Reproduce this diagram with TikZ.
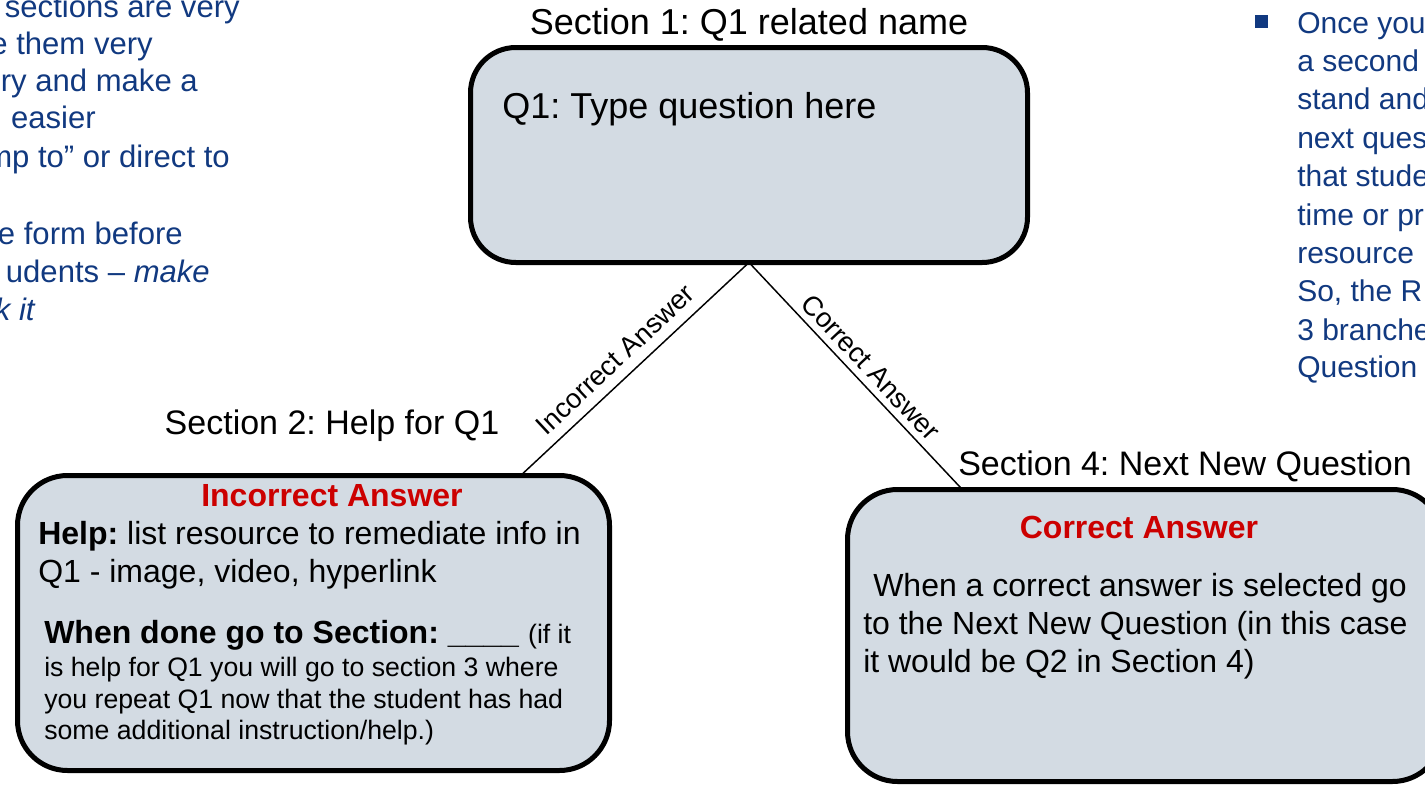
\documentclass[tikz,border=0pt]{standalone}
\usepackage{fontspec}
\setmainfont{Liberation Sans}
\usetikzlibrary{calc}
\definecolor{boxfill}{RGB}{211,219,227}
\definecolor{noteblue}{RGB}{17,57,128}
\definecolor{ansred}{RGB}{204,0,0}
\tikzset{
  qbox/.style={draw=black, line width=3.75pt, fill=boxfill, inner sep=0pt, outer sep=0pt, rounded corners=#1},
  qbox/.default=34pt,
  link/.style={draw=black, line width=1.1pt},
  note/.style={text=noteblue, inner sep=0pt, font=\fontsize{22.5pt}{27pt}\selectfont},
  lnote/.style={text=noteblue, inner sep=0pt, font=\fontsize{23.3pt}{27pt}\selectfont},
  secttl/.style={inner sep=0pt, font=\fontsize{25.5pt}{30pt}\selectfont},
  body/.style={inner sep=0pt, font=\fontsize{24pt}{28pt}\selectfont},
  redhead/.style={inner sep=0pt, text=ansred, font=\fontsize{24pt}{28pt}\selectfont\bfseries},
  small/.style={inner sep=0pt, font=\fontsize{20pt}{24pt}\selectfont},
  elabel/.style={font=\fontsize{20.5pt}{24pt}\selectfont, inner sep=2pt},
}
\begin{document}
\frenchspacing
\begin{tikzpicture}[x=0.75pt, y=-0.75pt]
\useasboundingbox (0,0) rectangle (1425,785);
\clip (0,0) rectangle (1425,785);

% boxes
\node[qbox=34pt, minimum width=417.75pt, minimum height=161.25pt] (top) at (749,155) {};
\node[qbox=37.5pt, minimum width=444pt, minimum height=221.25pt] (left) at (313.5,623) {};
\node[qbox=37.5pt, minimum width=446.25pt, minimum height=219pt] (right) at (1145,635.5) {};

\coordinate (lend) at ($(left.north west)!0.85!(left.north east)$);
\coordinate (rend) at ($(right.north west)!0.193!(right.north east)$);

% connectors
\draw[link] (lend) -- node[elabel, sloped, above=5.5pt, pos=0.475] {Incorrect Answer} (top.south);
\draw[link] (top.south) -- node[elabel, sloped, above=3pt, pos=0.513] {Correct Answer} (rend);

% section titles
\node[inner sep=0pt, anchor=base, font=\fontsize{27pt}{32pt}\selectfont] (s1) at (749,34) {Section 1: Q1 related name};
\node[secttl, anchor=base] (s2) at (332,434) {Section 2: Help for Q1};
\node[secttl, anchor=base west] (s4) at (958,475) {Section 4: Next New Question};

% top box text
\node[inner sep=0pt, anchor=base west, font=\fontsize{27pt}{32pt}\selectfont] (q1) at (502,118) {Q1: Type question here};

% left box text
\node[redhead, anchor=base] (lhead) at (332,506) {Incorrect Answer};
\node[body, anchor=base west] (l1) at (38,544) {\textbf{Help:} list resource to remediate info in};
\node[body, anchor=base west] (l2) at (38,582) {Q1 - image, video, hyperlink};
\node[body, anchor=base west] (l3) at (44,643) {\textbf{When done go to Section: \_\_\_\_} {\fontsize{20pt}{24pt}\selectfont (if it}};
\node[small, anchor=base west] (l4) at (44,676.5) {is help for Q1 you will go to section 3 where};
\node[small, anchor=base west] (l5) at (44,708.5) {you repeat Q1 now that the student has had};
\node[small, anchor=base west] (l6) at (44,739.5) {some additional instruction/help.)};

% right box text
\node[redhead, anchor=base] (rhead) at (1139,538) {Correct Answer};
\node[body, anchor=base west] (r1) at (873,596) {When a correct answer is selected go};
\node[body, anchor=base west] (r2) at (863,634) {to the Next New Question (in this case};
\node[body, anchor=base west] (r3) at (863,672) {it would be Q2 in Section 4)};

% left notes (cut off)
\node[lnote, anchor=base east] (n1) at (240,17) {sections are very};
\node[lnote, anchor=base east] (n2) at (153,54) {e them very};
\node[lnote, anchor=base east] (n3) at (198,91) {ry and make a};
\node[lnote, anchor=base east] (n4) at (96,128) {easier};
\node[lnote, anchor=base east] (n5) at (230,167) {mp to” or direct to};
\node[lnote, anchor=base east] (n6) at (183,244) {e form before};
\node[lnote, anchor=base east] (n7) at (210,282) {udents – \textit{make}};
\node[lnote, anchor=base east] (n8) at (36,320) {\textit{k it}};

% right notes (cut off)
\node[fill=noteblue, minimum size=9.75pt, inner sep=0pt] (bul) at (1261.5,21.5) {};
\node[note, anchor=base west] (m1) at (1297,33) {Once you};
\node[note, anchor=base west] (m2) at (1297,71) {a second};
\node[note, anchor=base west] (m3) at (1297,109) {stand and};
\node[note, anchor=base west] (m4) at (1297,148) {next ques};
\node[note, anchor=base west] (m5) at (1297,186) {that stude};
\node[note, anchor=base west] (m6) at (1297,225) {time or pr};
\node[note, anchor=base west] (m7) at (1297,263) {resource};
\node[note, anchor=base west] (m8) at (1297,301) {So, the R};
\node[note, anchor=base west] (m9) at (1297,340) {3 branche};
\node[note, anchor=base west] (m10) at (1297,377) {Question};
\end{tikzpicture}
\end{document}
